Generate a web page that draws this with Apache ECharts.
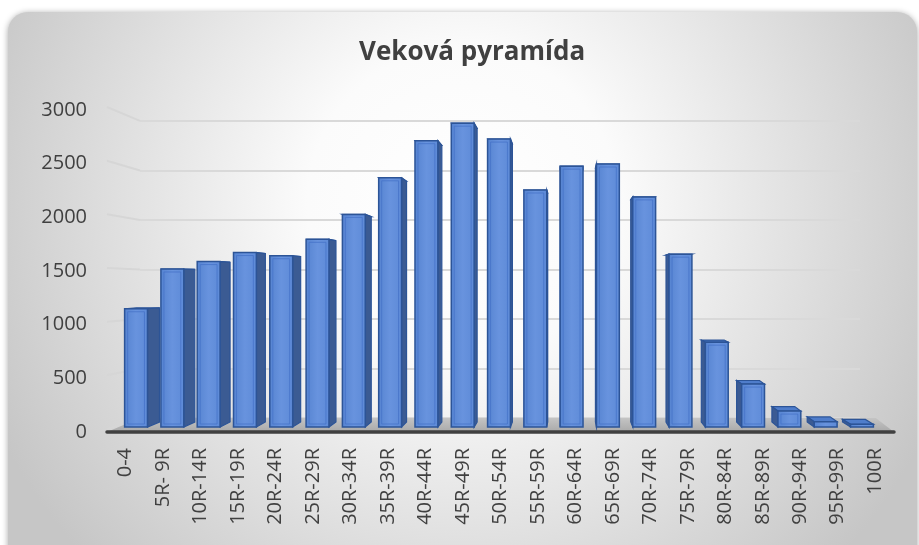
<!DOCTYPE html>
<html>
<head>
<meta charset="utf-8">
<title>Veková pyramída</title>
<script src="https://cdn.jsdelivr.net/npm/echarts@6/dist/echarts.min.js"></script>
<style>
html,body{margin:0;padding:0;background:#fff;}
#main{width:919px;height:545px;}
</style>
</head>
<body>
<div id="main"></div>
<script>
var kategorie = ['0-4','5R- 9R','10R-14R','15R-19R','20R-24R','25R-29R','30R-34R','35R-39R','40R-44R','45R-49R',
                 '50R-54R','55R-59R','60R-64R','65R-69R','70R-74R','75R-79R','80R-84R','85R-89R','90R-94R','95R-99R','100R'];
var pocet = [1115,1490,1560,1645,1615,1770,2005,2350,2700,2865,
             2715,2235,2460,2480,2170,1630,800,405,150,50,25];
var osY = [0,500,1000,1500,2000,2500,3000];

// "3D" nastavenia - stlpce su kusok dozadu od prednej osi
var VX = 453, S = 0.9685;      // zuzenie radu stlpcov
var KX = 0.0276, DX0 = 571;    // bocna stena
var KY = 0.034, EY = 280;      // horna stena
var FX = 614, FS = 0.935;      // podlaha / zadna stena (x)
var WY = 251, WS = 0.9224;     // podlaha / zadna stena (y)

var chart = echarts.init(document.getElementById('main'));

function stlpec(params, api) {
    var i = api.value(0);
    var p0 = api.coord([i, 0]);
    var pv = api.coord([i, api.value(1)]);
    var pas = api.size([1, 0])[0];
    var bx = VX + S * (p0[0] - VX);
    var w = pas * S * 0.63;
    var yb = p0[1] - 5;
    var yt = yb - (p0[1] - pv[1]) * 0.988;
    var x0 = bx - w / 2, x1 = bx + w / 2;
    var dx = KX * (DX0 - bx);
    var dyT = -KY * (yt - EY), dyB = -KY * (yb - EY);
    var xs = dx > 0 ? x1 : x0;
    var okraj = '#2c5497';
    var predok = new echarts.graphic.LinearGradient(0, 0, 1, 0, [
        {offset: 0, color: '#5583d0'},
        {offset: 0.5, color: '#6893de'},
        {offset: 1, color: '#5d8ad7'}
    ]);
    var deti = [
        {type: 'polygon', shape: {points: [[x0, yt], [x1, yt], [x1 + dx, yt + dyT], [x0 + dx, yt + dyT]]},
         style: {fill: '#4f7dcb', stroke: okraj, lineWidth: 1.2}},
        {type: 'polygon', shape: {points: [[xs, yt], [xs + dx, yt + dyT], [xs + dx, yb + dyB], [xs, yb]]},
         style: {fill: '#3b5b93', stroke: okraj, lineWidth: 1.2}},
        {type: 'rect', shape: {x: x0, y: yt, width: w, height: yb - yt},
         style: {fill: predok, stroke: okraj, lineWidth: 1.5}}
    ];
    if (yb - yt > 8) {
        deti.push({type: 'rect', shape: {x: x0 + 3, y: yt + 3, width: w - 6, height: yb - yt - 6},
                   style: {fill: 'none', stroke: 'rgba(70,115,200,0.8)', lineWidth: 1}});
    }
    return {type: 'group', children: deti};
}

function podlaha(params, api) {
    if (params.dataIndex !== 0) return;
    var pas = api.size([1, 0])[0];
    var a = api.coord([0, 0]);
    var b = api.coord([kategorie.length - 1, 0]);
    var xl = a[0] - pas / 2, xr = b[0] + pas / 2, y0 = a[1];
    var yz = WY + WS * (y0 - WY);
    return {
        type: 'polygon',
        shape: {points: [[xl, y0], [xr, y0], [FX + FS * (xr - FX), yz], [FX + FS * (xl - FX), yz]]},
        style: {fill: new echarts.graphic.LinearGradient(0, 0, 0, 1, [
            {offset: 0, color: '#c4c4c4'}, {offset: 1, color: '#a9a9a9'}])}
    };
}

function bocnaStena(params, api) {
    var pas = api.size([1, 0])[0];
    var p = api.coord([0, api.value(1)]);
    var xf = p[0] - pas / 2, yf = p[1];
    return {
        type: 'line',
        shape: {x1: xf, y1: yf - 3, x2: FX + FS * (xf - FX), y2: WY + WS * (yf - WY)},
        style: {stroke: '#d6d6d6', lineWidth: 2}
    };
}

var option = {
    animation: false,
    textStyle: {fontFamily: 'Open Sans'},
    graphic: [{
        type: 'rect', z: -10,
        shape: {x: 8, y: 12, width: 909, height: 545, r: [20, 20, 0, 0]},
        style: {
            fill: new echarts.graphic.RadialGradient(0.5, 0.35, 0.95, [
                {offset: 0, color: '#ffffff'},
                {offset: 0.3, color: '#fbfbfb'},
                {offset: 1, color: '#c6c6c6'}
            ]),
            shadowBlur: 6, shadowColor: 'rgba(0,0,0,0.35)', shadowOffsetY: 1
        }
    }],
    title: {
        text: 'Veková pyramída',
        left: 354, top: 35,
        textStyle: {fontFamily: 'Open Sans', fontWeight: 'bold', fontSize: 26, color: '#404040'}
    },
    grid: [
        {left: 107, right: 25, top: 110, bottom: 113, outerBoundsMode: 'none'},
        {left: 140, right: 59, top: 121, bottom: 127, outerBoundsMode: 'none'}
    ],
    xAxis: [{
        type: 'category', gridIndex: 0, data: kategorie, z: 10,
        axisLine: {lineStyle: {color: '#404040', width: 3.5}},
        axisTick: {show: false},
        axisLabel: {rotate: 90, margin: 16, fontSize: 20, color: '#404040', interval: 0, fontFamily: 'Open Sans'}
    }, {
        type: 'category', gridIndex: 1, data: kategorie, show: false
    }],
    yAxis: [{
        type: 'value', gridIndex: 0, min: 0, max: 3000, interval: 500,
        axisLine: {show: false}, axisTick: {show: false}, splitLine: {show: false},
        axisLabel: {margin: 20, fontSize: 20, color: '#404040', fontFamily: 'Open Sans',
                    formatter: function (v) { return String(v); }}
    }, {
        type: 'value', gridIndex: 1, min: 0, max: 3000, interval: 500,
        axisLine: {show: false}, axisTick: {show: false}, axisLabel: {show: false},
        splitLine: {lineStyle: {color: '#d9d9d9', width: 2}}
    }],
    series: [{
        type: 'custom', name: 'stena', xAxisIndex: 0, yAxisIndex: 0, z: 1, silent: true,
        renderItem: bocnaStena, clip: false,
        data: osY.map(function (v) { return [0, v]; })
    }, {
        type: 'custom', name: 'podlaha', xAxisIndex: 0, yAxisIndex: 0, z: 2, silent: true,
        renderItem: podlaha, clip: false,
        data: [[0, 0]]
    }, {
        type: 'custom', name: 'Počet', xAxisIndex: 0, yAxisIndex: 0, z: 3,
        renderItem: stlpec, clip: false,
        encode: {x: 0, y: 1},
        data: pocet.map(function (v, i) { return [i, v]; })
    }]
};
chart.setOption(option);
</script>
</body>
</html>
